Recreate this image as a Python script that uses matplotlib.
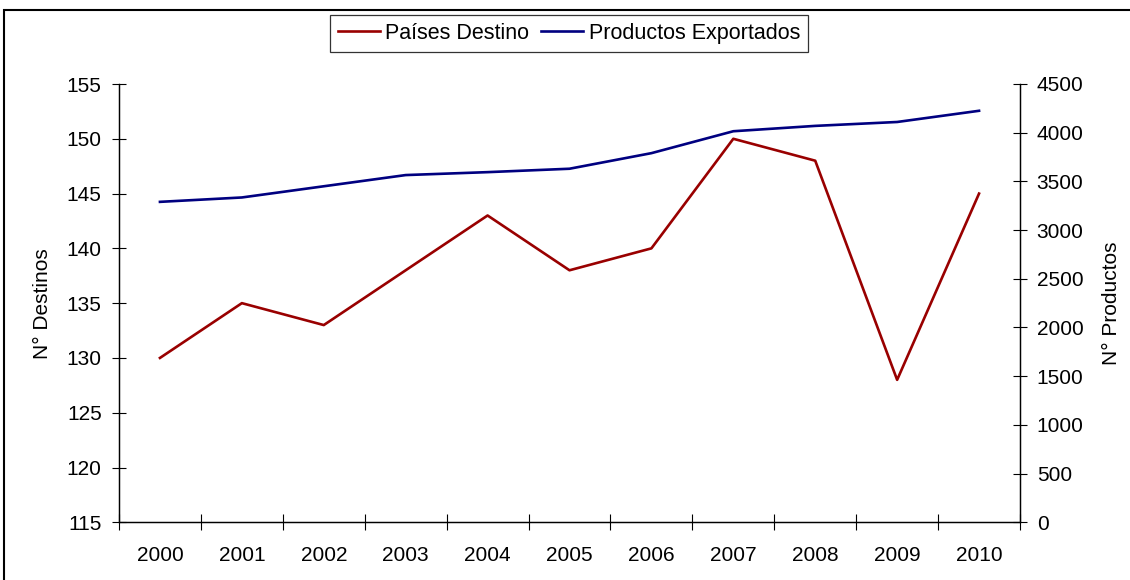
import matplotlib
matplotlib.use("Agg")
import matplotlib.pyplot as plt
from matplotlib.patches import Rectangle
from matplotlib.ticker import FixedLocator, NullFormatter

years = ["2000", "2001", "2002", "2003", "2004", "2005", "2006", "2007", "2008", "2009", "2010"]
paises_destino = [130, 135, 133, 138, 143, 138, 140, 150, 148, 128, 145]
productos_exportados = [3290, 3335, 3450, 3565, 3595, 3630, 3790, 4015, 4070, 4110, 4225]
left_ticks = [115, 120, 125, 130, 135, 140, 145, 150, 155]
right_ticks = [0, 500, 1000, 1500, 2000, 2500, 3000, 3500, 4000, 4500]

plt.rcParams['font.family'] = ['Liberation Sans', 'DejaVu Sans']
FS = 15
LFS = 15.5

fig = plt.figure(figsize=(11.3, 5.8), dpi=100)
ax = fig.add_axes([119/1130, 1-522.3/580, (1020-119)/1130, (522.3-84)/580])
ax2 = ax.twinx()

x = list(range(len(years)))
l1, = ax.plot(x, paises_destino, color='#990000', lw=1.9, label='Países Destino')
l2, = ax2.plot(x, productos_exportados, color='#000080', lw=1.9, label='Productos Exportados')

ax.set_xlim(-0.5, len(years) - 0.5)
ax.set_ylim(115, 155)
ax2.set_ylim(0, 4500)
ax.set_yticks(left_ticks)
ax2.set_yticks(right_ticks)
ax.set_xticks(x)
ax.set_xticklabels(years)
ax.xaxis.set_minor_locator(FixedLocator([i - 0.5 for i in range(len(years) + 1)]))
ax.xaxis.set_minor_formatter(NullFormatter())
ax.tick_params(axis='x', which='major', length=0, labelsize=FS, pad=17)
ax.tick_params(axis='x', which='minor', direction='inout', length=11, width=0.8)
ax.tick_params(axis='y', direction='inout', length=10, width=0.8, labelsize=FS, pad=7.5)
ax2.tick_params(axis='y', direction='inout', length=10, width=0.8, labelsize=FS, pad=7)

for a in (ax, ax2):
    a.spines['top'].set_visible(False)
    for s in ('left', 'right', 'bottom'):
        a.spines[s].set_linewidth(0.9)
        a.spines[s].set_color('black')

ax.set_ylabel('N° Destinos', fontsize=FS)
ax2.set_ylabel('N° Productos', fontsize=FS)
ax.yaxis.set_label_coords((52 - 119) / 901, 0.5)
ax2.yaxis.set_label_coords((1102 - 119) / 901, 0.5)

leg = fig.legend(handles=[l1, l2], loc='center', bbox_to_anchor=(569/1130, 1-33.5/580),
                 ncol=2, fontsize=LFS, frameon=True, fancybox=False, handlelength=1.95,
                 handletextpad=0.25, columnspacing=0.55, borderpad=0.35)
leg.get_frame().set_edgecolor('black')
leg.get_frame().set_linewidth(0.9)

fig.patches.append(Rectangle((4/1130, -0.05), 1.2, 1 - 10/580 + 0.05, transform=fig.transFigure,
                             fill=False, edgecolor='black', lw=1.5))

fig.savefig('out.png', dpi=100)
